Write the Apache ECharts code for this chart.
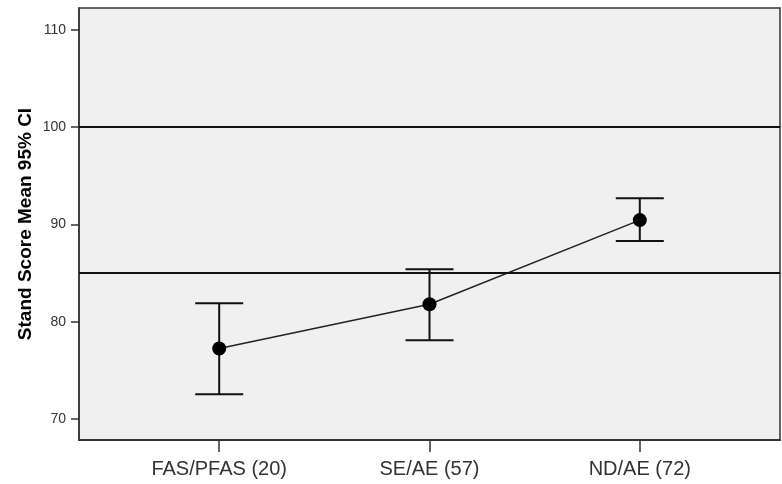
<!DOCTYPE html>
<html>
<head>
<meta charset="utf-8">
<script src="https://cdn.jsdelivr.net/npm/echarts@6/dist/echarts.min.js"></script>
<style>html,body{margin:0;padding:0;background:#fff}#c{width:782px;height:484px}</style>
</head>
<body>
<div id="c"></div>
<script>
var categories = ['FAS/PFAS (20)', 'SE/AE (57)', 'ND/AE (72)'];
var means = [77.25, 81.8, 90.45];
var lowerCI = [72.55, 78.1, 88.3];
var upperCI = [81.9, 85.4, 92.7];
var refLines = [85, 100];
var yTicks = [70, 80, 90, 100, 110];
var yTitle = 'Stand Score Mean 95% CI';

var chart = echarts.init(document.getElementById('c'), null, {renderer: 'canvas'});
var xIdx = categories.map(function (c, i) { return i; });
var lineData = means.map(function (m, i) { return [i, m]; });
var errData = means.map(function (m, i) { return [i, lowerCI[i], upperCI[i]]; });

chart.setOption({
  animation: false,
  textStyle: {fontFamily: 'Liberation Sans, Arial, sans-serif'},
  grid: {left: 79, right: 2, top: 8, bottom: 44, show: true, backgroundColor: '#f0f0f0', borderColor: '#333', borderWidth: 1.5},
  xAxis: {
    type: 'value', min: -2/3, max: 8/3,
    splitLine: {show: false},
    axisLine: {show: true, onZero: false, lineStyle: {color: '#333', width: 2}},
    axisTick: {show: true, customValues: xIdx, length: 12, lineStyle: {color: '#333', width: 1.5}},
    axisLabel: {customValues: xIdx, margin: 19, fontSize: 20, color: '#333',
      formatter: function (v) { return categories[Math.round(v)]; }}
  },
  yAxis: {
    type: 'value', min: 67.84, max: 112.26,
    name: yTitle, nameLocation: 'middle', nameGap: 44, nameMoveOverlap: false,
    nameTextStyle: {fontSize: 19, fontWeight: 'bold', color: '#000'},
    splitLine: {show: false},
    axisLine: {show: true, onZero: false, lineStyle: {color: '#333', width: 1.5}},
    axisTick: {show: true, customValues: yTicks, length: 8, lineStyle: {color: '#333', width: 1.5}},
    axisLabel: {customValues: yTicks, margin: 13, fontSize: 14, color: '#333'}
  },
  series: [
    {
      type: 'custom',
      data: errData,
      z: 3,
      renderItem: function (params, api) {
        var x = api.value(0);
        var lo = api.coord([x, api.value(1)]);
        var hi = api.coord([x, api.value(2)]);
        var hw = 24;
        var st = {stroke: '#111', lineWidth: 2};
        return {type: 'group', children: [
          {type: 'line', shape: {x1: lo[0], y1: lo[1], x2: hi[0], y2: hi[1]}, style: st},
          {type: 'line', shape: {x1: lo[0] - hw, y1: lo[1], x2: lo[0] + hw, y2: lo[1]}, style: st},
          {type: 'line', shape: {x1: hi[0] - hw, y1: hi[1], x2: hi[0] + hw, y2: hi[1]}, style: st}
        ]};
      }
    },
    {
      type: 'line',
      data: lineData,
      z: 4,
      symbol: 'circle', symbolSize: 14,
      itemStyle: {color: '#000'},
      lineStyle: {color: '#222', width: 1.5},
      markLine: {
        silent: true, symbol: 'none', label: {show: false},
        lineStyle: {color: '#111', width: 2, type: 'solid'},
        data: refLines.map(function (v) { return {yAxis: v}; })
      }
    }
  ]
});
</script>
</body>
</html>
